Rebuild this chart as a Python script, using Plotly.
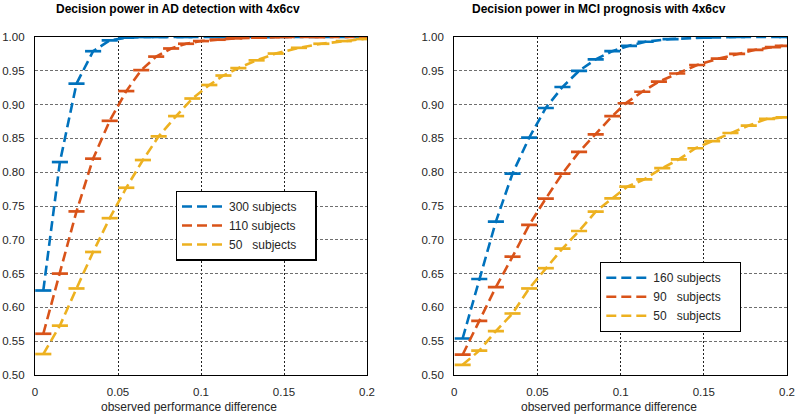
import plotly.graph_objects as go

# ---------------- data ----------------
X_TICKS = [0, 0.05, 0.1, 0.15, 0.2]
X_TICK_LABELS = ["0", "0.05", "0.1", "0.15", "0.2"]
Y_TICKS = [0.50, 0.55, 0.60, 0.65, 0.70, 0.75, 0.80, 0.85, 0.90, 0.95, 1.00]

TITLES = ["Decision power in AD detection with 4x6cv",
          "Decision power in MCI prognosis with 4x6cv"]
X_LABEL = "observed performance difference"

# AD detection panel
AD_NAMES = ["300 subjects", "110 subjects", "50\u00a0\u00a0\u00a0subjects"]
AD_X_300 = [0.005, 0.015, 0.025, 0.035, 0.045, 0.055, 0.065, 0.075, 0.09, 0.11, 0.14, 0.2]
AD_Y_300 = [0.625, 0.815, 0.931, 0.979, 0.995, 0.999, 1.0, 1.0, 1.0, 1.0, 1.0, 1.0]
AD_X_110 = [0.005, 0.015, 0.025, 0.035, 0.045, 0.055, 0.064, 0.073, 0.082, 0.091, 0.1,
            0.11, 0.12, 0.135, 0.15, 0.17, 0.2]
AD_Y_110 = [0.561, 0.650, 0.742, 0.820, 0.876, 0.920, 0.951, 0.971, 0.983, 0.990, 0.994,
            0.996, 0.998, 0.999, 1.0, 1.0, 1.0]
AD_X_50 = [0.005, 0.015, 0.025, 0.035, 0.045, 0.055, 0.065, 0.0745, 0.085, 0.0948,
           0.105, 0.1135, 0.1225, 0.1335, 0.145, 0.159, 0.1725, 0.186, 0.198]
AD_Y_50 = [0.531, 0.573, 0.628, 0.682, 0.732, 0.777, 0.818, 0.853, 0.883, 0.909,
           0.929, 0.943, 0.954, 0.9655, 0.9755, 0.984, 0.990, 0.994, 0.997]

# MCI prognosis panel
MCI_NAMES = ["160 subjects", "90\u00a0\u00a0\u00a0subjects", "50\u00a0\u00a0\u00a0subjects"]
MCI_X_160 = [0.005, 0.015, 0.025, 0.035, 0.045, 0.055, 0.065, 0.075, 0.085, 0.095,
             0.105, 0.115, 0.13, 0.15, 0.17, 0.2]
MCI_Y_160 = [0.554, 0.642, 0.727, 0.798, 0.851, 0.895, 0.926, 0.950, 0.967, 0.979,
             0.987, 0.993, 0.997, 0.999, 1.0, 1.0]
MCI_X_90 = [0.005, 0.015, 0.025, 0.035, 0.045, 0.055, 0.065, 0.075, 0.085, 0.095,
            0.103, 0.113, 0.123, 0.134, 0.146, 0.159, 0.170, 0.181, 0.1915, 0.1975]
MCI_Y_90 = [0.530, 0.580, 0.630, 0.675, 0.722, 0.761, 0.798, 0.830, 0.856, 0.883,
            0.902, 0.919, 0.934, 0.946, 0.9586, 0.968, 0.975, 0.981, 0.985, 0.987]
MCI_X_50 = [0.005, 0.015, 0.025, 0.035, 0.045, 0.055, 0.065, 0.075, 0.085, 0.095,
            0.104, 0.1142, 0.125, 0.135, 0.145, 0.155, 0.166, 0.177, 0.188, 0.198]
MCI_Y_50 = [0.515, 0.536, 0.565, 0.591, 0.628, 0.658, 0.687, 0.713, 0.7416, 0.7614,
            0.7786, 0.7895, 0.806, 0.819, 0.8354, 0.846, 0.858, 0.869, 0.879, 0.881]

COLORS = ["#0072BD", "#D95319", "#EDB120"]

# ---------------- figure ----------------
W, H = 796, 418
FONT = "Liberation Sans, Arial, Helvetica, sans-serif"
PAD = "\u00a0" * 4

fig = go.Figure()

panels = [
    ("x", "y", "legend", AD_NAMES, [(AD_X_300, AD_Y_300), (AD_X_110, AD_Y_110), (AD_X_50, AD_Y_50)]),
    ("x2", "y2", "legend2", MCI_NAMES, [(MCI_X_160, MCI_Y_160), (MCI_X_90, MCI_Y_90), (MCI_X_50, MCI_Y_50)]),
]

for xa, ya, leg, names, series in panels:
    for i, (name, (xs, ys), col) in enumerate(zip(names, series, COLORS)):
        fig.add_trace(go.Scatter(
            x=xs, y=ys, mode="lines", name=name + PAD, legend=leg,
            legendgroup=leg + str(i),
            xaxis=xa, yaxis=ya,
            line=dict(color=col, width=2.6, dash="10px,5px"),
            showlegend=True,
        ))
        fig.add_trace(go.Scatter(
            x=xs, y=ys, mode="markers", xaxis=xa, yaxis=ya, showlegend=False,
            marker=dict(symbol="line-ew", size=11.5, color=col,
                        line=dict(color=col, width=2.7)),
            hoverinfo="skip",
        ))

def px_x(p):
    return p / W

def px_y(p):
    return 1 - p / H

xdom1 = [px_x(35), px_x(367)]
xdom2 = [px_x(454.3), px_x(787)]
ydom = [px_y(375), px_y(37)]

xcommon = dict(range=[0, 0.2], tickvals=X_TICKS, ticktext=X_TICK_LABELS,
               showline=True, linecolor="black", linewidth=1.3, mirror=True,
               showgrid=True, gridcolor="#222222", griddash="2px,2px", gridwidth=1,
               zeroline=False, ticks="", ticklabelstandoff=6, automargin=False,
               tickfont=dict(size=11.5, family=FONT, color="#262626"))
ycommon = dict(range=[0.5, 1.0], tickvals=Y_TICKS, tickformat=".2f",
               showline=True, linecolor="black", linewidth=1.3, mirror=True,
               showgrid=True, gridcolor="#6e6e6e", griddash="3px,2px", gridwidth=1.2,
               zeroline=False, ticks="", ticklabelstandoff=7, automargin=False,
               tickfont=dict(size=11.5, family=FONT, color="#262626"))

legcommon = dict(xanchor="left", yanchor="top", bgcolor="white",
                 bordercolor="black", borderwidth=1.3,
                 font=dict(size=12, family=FONT, color="#262626"),
                 itemwidth=42, traceorder="grouped", tracegroupgap=0)

fig.update_layout(
    width=W, height=H,
    margin=dict(l=0, r=0, t=0, b=0, autoexpand=False),
    paper_bgcolor="white", plot_bgcolor="white",
    xaxis=dict(domain=xdom1, anchor="y", **xcommon),
    yaxis=dict(domain=ydom, anchor="x", **ycommon),
    xaxis2=dict(domain=xdom2, anchor="y2", **xcommon),
    yaxis2=dict(domain=ydom, anchor="x2", **ycommon),
    legend=dict(x=px_x(175.7), y=px_y(190.7), **legcommon),
    legend2=dict(x=px_x(600), y=px_y(262), **legcommon),
    font=dict(family=FONT),
    annotations=[
        dict(text="<b>" + TITLES[0] + "</b>", x=px_x(177.7), y=px_y(9), xref="paper", yref="paper",
             xanchor="center", yanchor="middle", showarrow=False,
             font=dict(size=12, family=FONT, color="black")),
        dict(text="<b>" + TITLES[1] + "</b>", x=px_x(598.8), y=px_y(9), xref="paper", yref="paper",
             xanchor="center", yanchor="middle", showarrow=False,
             font=dict(size=12, family=FONT, color="black")),
        dict(text=X_LABEL, x=px_x(188.8), y=px_y(406.7), xref="paper", yref="paper",
             xanchor="center", yanchor="middle", showarrow=False,
             font=dict(size=12, family=FONT, color="#262626")),
        dict(text=X_LABEL, x=px_x(608.7), y=px_y(406.7), xref="paper", yref="paper",
             xanchor="center", yanchor="middle", showarrow=False,
             font=dict(size=12, family=FONT, color="#262626")),
    ],
    showlegend=True,
)

fig.write_html(
    "out.html",
    config={"displayModeBar": False},
    post_script="document.body.style.margin='0';document.body.style.overflow='hidden';",
)
